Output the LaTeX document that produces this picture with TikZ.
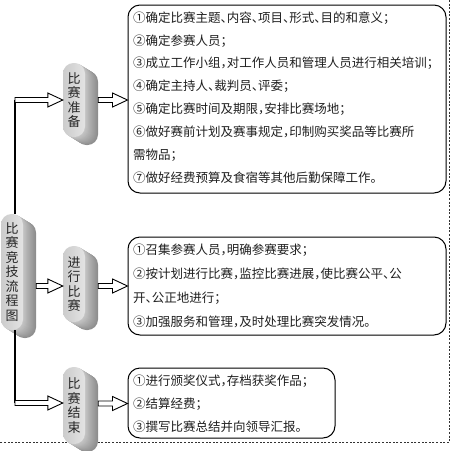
\documentclass[tikz,border=0pt]{standalone}
\usepackage{fontspec}
\usetikzlibrary{calc}
\newfontfamily\cjk[RawFeature=+halt]{Noto Sans CJK SC}
\XeTeXlinebreaklocale "zh"
\XeTeXlinebreakskip=0pt plus 1pt
\newcommand\extrude[4]{%
  \foreach \i in {14,...,1}{%
    \pgfmathsetmacro\shd{22+1.6*\i}%
    \fill[black!\shd, rounded corners=10.5pt] ({#1+\i*13/14},{#2+\i*8/14}) rectangle ({#3+\i*13/14},{#4+\i*8/14});
  }}
\newcommand\fitln[2]{\makebox[#1pt][s]{#2}}
\begin{document}
\begin{tikzpicture}[x=1pt,y=-1pt,
  txt/.style={anchor=west, inner sep=0pt, font=\cjk\fontsize{12.5}{14}\selectfont, text=black!88},
  pillface/.style={rectangle, rounded corners=10.5pt, minimum width=22pt, inner sep=0pt,
     left color=black!20, right color=black!11, align=center,
     font=\cjk\fontsize{13}{14.5}\selectfont, text=black!85},
  infobox/.style={draw=black, line width=1pt, rounded corners=12pt, fill=white, inner sep=0pt},
  trunk/.style={line width=1.5pt},
  hollow/.style={draw=black, line width=0.9pt, fill=white, to path={
     let \p1=(\tikztostart), \p2=(\tikztotarget) in
     (\x1,\y1+2.5pt) -- (\x2-15pt,\y1+2.5pt) -- (\x2-15pt,\y1+7pt) -- (\x2,\y1)
     -- (\x2-15pt,\y1-7pt) -- (\x2-15pt,\y1-2.5pt) -- (\x1,\y1-2.5pt) -- cycle}},
  frame/.style={dash pattern=on 2pt off 1.6pt, line width=0.9pt, black!80}]
\useasboundingbox (0,0) rectangle (450,451);

% dotted frame
\draw[frame] (449,0) -- (449,442.5) -- (0,442.5);

% information boxes
\node[infobox, minimum width=318pt, minimum height=188pt] (box1) at (287,99) {};
\node[infobox, minimum width=318pt, minimum height=98pt] (box2) at (287,286) {};
\node[infobox, minimum width=207pt, minimum height=70pt] (box3) at (231.5,403) {};

% trunk coordinates
\coordinate (top) at (15,100);
\coordinate (bot) at (15,403);

% pills
\extrude{1}{214}{23}{330}
\node[pillface, minimum height=116pt] (main) at (12,272) {比\\赛\\竞\\技\\流\\程\\图};
\extrude{63}{63}{85}{137}
\node[pillface, minimum height=74pt] (prep) at (74,100) {比\\赛\\准\\备};
\extrude{63}{246}{85}{322}
\node[pillface, minimum height=76pt] (run) at (74,284) {进\\行\\比\\赛};
\extrude{63}{367}{85}{444}
\node[pillface, minimum height=77pt] (finish) at (74,405.5) {比\\赛\\结\\束};

% trunk lines
\draw[trunk] (top) -- (top |- main.north);
\draw[trunk] (bot |- main.south) -- (bot);

% hollow arrows
\draw[hollow] (top) to (prep.west);
\draw[hollow] ($(prep.east)+(13,0)$) to (box1.west);
\draw[hollow] ($(main.east |- run.west)+(13,2)$) to (run.west);
\draw[hollow] ($(run.east)+(13,2)$) to (box2.west);
\draw[hollow] (bot) to (finish.west);
\draw[hollow] ($(finish.east)+(13,-2)$) to (box3.west);

% box 1 text
\node[txt] (b1l1) at (133,18) {\fitln{281}{①确定比赛主题、内容、项目、形式、目的和意义；}};
\node[txt] (b1l2) at (133,40.8) {\fitln{106}{②确定参赛人员；}};
\node[txt] (b1l3) at (133,63.6) {\fitln{306}{③成立工作小组，对工作人员和管理人员进行相关培训；}};
\node[txt] (b1l4) at (133,86.4) {\fitln{161}{④确定主持人、裁判员、评委；}};
\node[txt] (b1l5) at (133,109.2) {\fitln{231}{⑤确定比赛时间及期限，安排比赛场地；}};
\node[txt] (b1l6) at (133,132) {\fitln{301}{⑥做好赛前计划及赛事规定，印制购买奖品等比赛所}};
\node[txt] (b1l7) at (133,154.8) {\fitln{51}{需物品；}};
\node[txt] (b1l8) at (133,177.6) {\fitln{276}{⑦做好经费预算及食宿等其他后勤保障工作。}};

% box 2 text
\node[txt] (b2l1) at (133,250) {\fitln{191}{①召集参赛人员，明确参赛要求；}};
\node[txt] (b2l2) at (133,274) {\fitln{305}{②按计划进行比赛，监控比赛进展，使比赛公平、公}};
\node[txt] (b2l3) at (133,298) {\fitln{96}{开、公正地进行；}};
\node[txt] (b2l4) at (133,322) {\fitln{260}{③加强服务和管理，及时处理比赛突发情况。}};

% box 3 text
\node[txt] (b3l1) at (133,381) {\fitln{195}{①进行颁奖仪式，存档获奖作品；}};
\node[txt] (b3l2) at (133,404) {\fitln{83}{②结算经费；}};
\node[txt] (b3l3) at (133,427) {\fitln{185}{③撰写比赛总结并向领导汇报。}};
\end{tikzpicture}
\end{document}
